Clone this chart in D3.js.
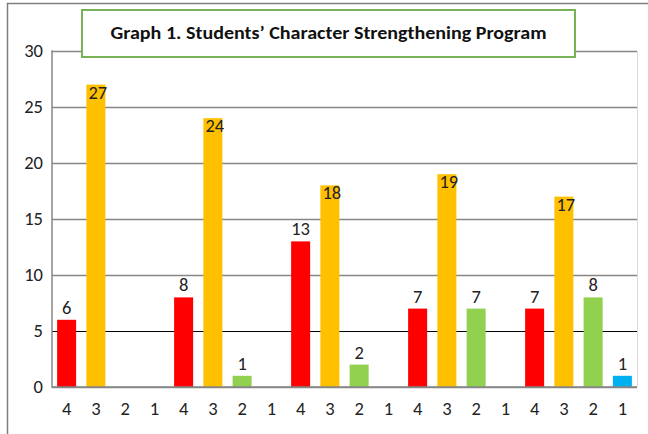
<!DOCTYPE html>
<html>
<head>
<meta charset="utf-8">
<script src="https://cdn.jsdelivr.net/npm/d3@7"></script>
<style>
  html, body { margin: 0; padding: 0; background: #fff; }
  svg { display: block; }
  text { font-family: Carlito, Calibri, Lato, "Open Sans", sans-serif; }
</style>
</head>
<body>
<svg id="chart" width="648" height="434"></svg>
<script>
// ---- data ----
const categories = ["4","3","2","1","4","3","2","1","4","3","2","1","4","3","2","1","4","3","2","1"];
const values = [6, 27, 0, 0, 8, 24, 1, 0, 13, 18, 2, 0, 7, 19, 7, 0, 7, 17, 8, 1];
const yTicks = [0, 5, 10, 15, 20, 25, 30];
const categoryColors = { "4": "#FF0000", "3": "#FFC000", "2": "#92D050", "1": "#00B0F0" };
const titleText = "Graph 1. Students\u2019 Character Strengthening Program";

// ---- layout ----
const W = 648, H = 434;
const plot = { left: 52, right: 637, top: 51, bottom: 387 };
const FS = 18.5;
const svg = d3.select("#chart");

// outer border
svg.append("path")
  .attr("d", `M7.5,${H} L7.5,3.5 L${W},3.5`)
  .attr("fill", "none").attr("stroke", "#7f7f7f").attr("stroke-width", 1.5);

const x = d3.scaleBand()
  .domain(d3.range(categories.length))
  .range([plot.left, plot.right])
  .paddingInner(0.35).paddingOuter(0.175);

const y = d3.scaleLinear().domain([0, 30]).range([plot.bottom, plot.top]);

// plot right border (light)
svg.append("line")
  .attr("x1", plot.right + 0.5).attr("x2", plot.right + 0.5)
  .attr("y1", plot.top).attr("y2", plot.bottom)
  .attr("stroke", "#d9d9d9").attr("stroke-width", 1);

// gridlines
const grid = svg.append("g")
  .attr("transform", `translate(${plot.left},0)`)
  .call(d3.axisLeft(y).tickValues(yTicks).tickSize(-(plot.right - plot.left)).tickFormat(""));
grid.select(".domain").remove();
grid.selectAll(".tick line")
  .attr("stroke", d => d === 5 ? "#000" : "#868686")
  .attr("stroke-width", d => d === 5 ? 1.2 : 1.5);

// y axis line
svg.append("line")
  .attr("x1", plot.left).attr("x2", plot.left)
  .attr("y1", plot.top - 0.75).attr("y2", plot.bottom + 0.75)
  .attr("stroke", "#868686").attr("stroke-width", 1.5);

// y tick labels
const yAxis = svg.append("g")
  .attr("transform", `translate(${plot.left - 9},0)`)
  .call(d3.axisLeft(y).tickValues(yTicks).tickSize(0).tickPadding(0));
yAxis.select(".domain").remove();
yAxis.selectAll("text")
  .attr("font-size", FS).attr("fill", "#222")
  .style("font-family", "Carlito, Calibri, Lato, sans-serif");

// bars
const data = values.map((v, i) => ({ i, cat: categories[i], v }));
const nonZero = data.filter(d => d.v > 0);

svg.append("g").selectAll("rect").data(nonZero).join("rect")
  .attr("x", d => x(d.i))
  .attr("width", x.bandwidth())
  .attr("y", d => y(d.v))
  .attr("height", d => y(0) - y(d.v))
  .attr("fill", d => categoryColors[d.cat]);

// x axis line (redraw over bars)
svg.append("line")
  .attr("x1", plot.left).attr("x2", plot.right)
  .attr("y1", plot.bottom).attr("y2", plot.bottom)
  .attr("stroke", "#868686").attr("stroke-width", 1.5);

// x tick labels
const xAxis = svg.append("g")
  .attr("transform", `translate(0,${plot.bottom})`)
  .call(d3.axisBottom(x).tickSize(0).tickPadding(15).tickFormat(i => categories[i]));
xAxis.select(".domain").remove();
xAxis.selectAll("text")
  .attr("font-size", FS).attr("fill", "#222")
  .style("font-family", "Carlito, Calibri, Lato, sans-serif");

// value labels
svg.append("g").selectAll("text").data(nonZero).join("text")
  .attr("x", d => x(d.i) + x.bandwidth() / 2 + (d.cat === "3" ? 2 : 0))
  .attr("y", d => d.cat === "3" ? y(d.v) + 14 : y(d.v) - 6)
  .attr("text-anchor", "middle")
  .attr("font-size", FS)
  .attr("fill", "#222")
  .text(d => d.v);

// title box
svg.append("rect")
  .attr("x", 82).attr("y", 10).attr("width", 493).attr("height", 47)
  .attr("fill", "#fff").attr("stroke", "#77B255").attr("stroke-width", 2);
svg.append("text")
  .attr("x", 328.5).attr("y", 39)
  .attr("text-anchor", "middle")
  .attr("font-size", 18).attr("font-weight", "bold").attr("fill", "#111")
  .attr("textLength", 436).attr("lengthAdjust", "spacingAndGlyphs")
  .text(titleText);
</script>
</body>
</html>
